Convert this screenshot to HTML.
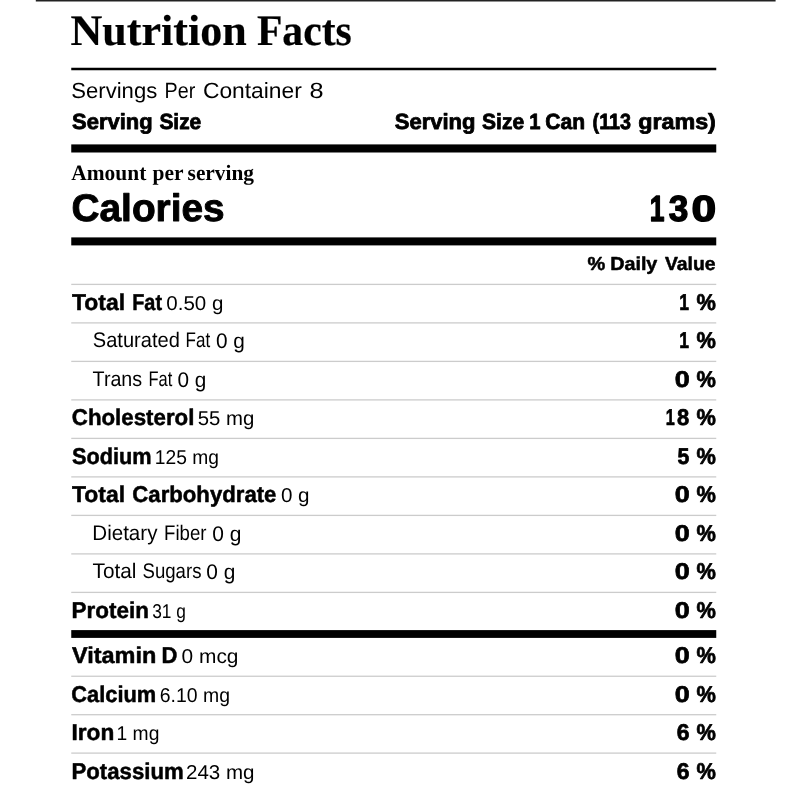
<!DOCTYPE html>
<html lang="en"><head><meta charset="utf-8"><title>Nutrition Facts</title>
<style>
html,body{margin:0;padding:0;background:#fff;}
body{width:800px;height:800px;overflow:hidden;}
svg{display:block;will-change:transform;}
text{fill:#000;text-rendering:geometricPrecision;}
.s{font-family:"Liberation Sans",Arial,sans-serif;}
.sb{font-family:"Liberation Sans",Arial,sans-serif;font-weight:700;stroke:#000;stroke-width:.5px;stroke-linejoin:round;}
.ss{font-family:"Liberation Sans",Arial,sans-serif;font-weight:700;stroke:#000;stroke-width:.8px;stroke-linejoin:round;}
.sr{font-family:"Liberation Sans",Arial,sans-serif;font-weight:700;stroke:#000;stroke-width:.5px;stroke-linejoin:round;}
.sp{font-family:"Liberation Sans",Arial,sans-serif;font-weight:700;stroke:#000;stroke-width:.7px;stroke-linejoin:round;}
.sh{font-family:"Liberation Sans",Arial,sans-serif;font-weight:700;stroke:#000;stroke-width:.9px;stroke-linejoin:round;}
.sx{font-family:"Liberation Sans",Arial,sans-serif;font-weight:700;stroke:#000;stroke-width:1.4px;stroke-linejoin:round;}
.serif{font-family:"Liberation Serif","Times New Roman",serif;font-weight:700;}
.serifh{font-family:"Liberation Serif","Times New Roman",serif;font-weight:700;stroke:#000;stroke-width:.2px;}
</style></head><body>
<svg width="800" height="800" viewBox="0 0 800 800">
<rect width="800" height="800" fill="#fff"/>
<rect x="35.8" y="0" width="739.8" height="1.5" fill="#222"/>
<rect x="71.25" y="67.75" width="645.0" height="2.5" fill="#000"/>
<rect x="71.25" y="144.4" width="645.0" height="8.1" fill="#000"/>
<rect x="71.25" y="237.4" width="645.0" height="8.0" fill="#000"/>
<rect x="71.25" y="630.1" width="645.0" height="7.8" fill="#000"/>
<rect x="71.25" y="283.75" width="645.0" height="1.3" fill="#cccccc"/>
<rect x="71.25" y="322.25" width="645.0" height="1.3" fill="#cccccc"/>
<rect x="71.25" y="360.75" width="645.0" height="1.3" fill="#cccccc"/>
<rect x="71.25" y="399.25" width="645.0" height="1.3" fill="#cccccc"/>
<rect x="71.25" y="437.75" width="645.0" height="1.3" fill="#cccccc"/>
<rect x="71.25" y="476.25" width="645.0" height="1.3" fill="#cccccc"/>
<rect x="71.25" y="514.75" width="645.0" height="1.3" fill="#cccccc"/>
<rect x="71.25" y="553.25" width="645.0" height="1.3" fill="#cccccc"/>
<rect x="71.25" y="591.75" width="645.0" height="1.3" fill="#cccccc"/>
<rect x="71.25" y="675.6" width="645.0" height="1.3" fill="#cccccc"/>
<rect x="71.25" y="714.05" width="645.0" height="1.3" fill="#cccccc"/>
<rect x="71.25" y="752.45" width="645.0" height="1.3" fill="#cccccc"/>
<text y="45"><tspan class="serifh" font-size="43.6" x="70.58" textLength="176.04" lengthAdjust="spacingAndGlyphs">Nutrition</tspan> <tspan class="serifh" font-size="43.6" x="256.93" textLength="94.77" lengthAdjust="spacingAndGlyphs">Facts</tspan></text>
<text y="98"><tspan class="s" font-size="22" x="71.30" textLength="85.90" lengthAdjust="spacingAndGlyphs">Servings</tspan> <tspan class="s" font-size="22" x="164.58" textLength="30.64" lengthAdjust="spacingAndGlyphs">Per</tspan> <tspan class="s" font-size="22" x="202.96" textLength="98.84" lengthAdjust="spacingAndGlyphs">Container</tspan> <tspan class="s" font-size="22" x="309.61" textLength="14.06" lengthAdjust="spacingAndGlyphs">8</tspan></text>
<text y="129"><tspan class="ss" font-size="22" x="72.10" textLength="80.50" lengthAdjust="spacingAndGlyphs">Serving</tspan> <tspan class="ss" font-size="22" x="159.40" textLength="41.88" lengthAdjust="spacingAndGlyphs">Size</tspan></text>
<text y="129"><tspan class="ss" font-size="22" x="394.75" textLength="80.70" lengthAdjust="spacingAndGlyphs">Serving</tspan> <tspan class="ss" font-size="22" x="482.10" textLength="42.03" lengthAdjust="spacingAndGlyphs">Size</tspan> <tspan class="ss" font-size="22" x="529.19" textLength="11.27" lengthAdjust="spacingAndGlyphs">1</tspan> <tspan class="ss" font-size="22" x="545.28" textLength="39.76" lengthAdjust="spacingAndGlyphs">Can</tspan> <tspan class="ss" font-size="22" x="592.56" textLength="38.46" lengthAdjust="spacingAndGlyphs">(113</tspan> <tspan class="ss" font-size="22" x="638.17" textLength="77.71" lengthAdjust="spacingAndGlyphs">grams)</tspan></text>
<text y="180"><tspan class="serif" font-size="22" x="71.25" textLength="75.02" lengthAdjust="spacingAndGlyphs">Amount</tspan> <tspan class="serif" font-size="22" x="152.50" textLength="30.96" lengthAdjust="spacingAndGlyphs">per</tspan> <tspan class="serif" font-size="22" x="187.58" textLength="66.42" lengthAdjust="spacingAndGlyphs">serving</tspan></text>
<text y="221"><tspan class="sh" font-size="38.5" x="71.49" textLength="153.20" lengthAdjust="spacingAndGlyphs">Calories</tspan></text>
<text y="221"><tspan class="sx" font-size="36.4" x="649.83" textLength="14.75" lengthAdjust="spacingAndGlyphs">1</tspan><tspan class="sx" font-size="36.4" x="668.75" textLength="19.59" lengthAdjust="spacingAndGlyphs">3</tspan><tspan class="sx" font-size="36.4" x="691.59" textLength="24.66" lengthAdjust="spacingAndGlyphs">0</tspan></text>
<text y="270"><tspan class="sb" font-size="18.8" x="587.50" textLength="17.75" lengthAdjust="spacingAndGlyphs">%</tspan> <tspan class="sb" font-size="18.8" x="610.20" textLength="47.16" lengthAdjust="spacingAndGlyphs">Daily</tspan> <tspan class="sb" font-size="18.8" x="665.04" textLength="50.54" lengthAdjust="spacingAndGlyphs">Value</tspan></text>
<text y="310"><tspan class="sr" font-size="22.8" x="72.00" textLength="53.07" lengthAdjust="spacingAndGlyphs">Total</tspan> <tspan class="sr" font-size="22.8" x="132.23" textLength="29.79" lengthAdjust="spacingAndGlyphs">Fat</tspan> <tspan class="s" font-size="20" x="166.36" textLength="57.01" lengthAdjust="spacingAndGlyphs">0.50 g</tspan></text>
<text y="310"><tspan class="sp" font-size="22.8" x="679.33" textLength="9.78" lengthAdjust="spacingAndGlyphs">1</tspan> <tspan class="sp" font-size="22.8" x="696.40" textLength="19.37" lengthAdjust="spacingAndGlyphs">%</tspan></text>
<text y="347"><tspan class="s" font-size="21.1" x="92.85" textLength="86.98" lengthAdjust="spacingAndGlyphs">Saturated</tspan> <tspan class="s" font-size="21.1" x="185.60" textLength="24.63" lengthAdjust="spacingAndGlyphs">Fat</tspan> <tspan class="s" font-size="21.1" x="215.97" y="348" textLength="28.94" lengthAdjust="spacingAndGlyphs">0 g</tspan></text>
<text y="348"><tspan class="sp" font-size="22.8" x="679.33" textLength="9.78" lengthAdjust="spacingAndGlyphs">1</tspan> <tspan class="sp" font-size="22.8" x="696.40" textLength="19.37" lengthAdjust="spacingAndGlyphs">%</tspan></text>
<text y="386"><tspan class="s" font-size="21.1" x="92.60" textLength="49.55" lengthAdjust="spacingAndGlyphs">Trans</tspan> <tspan class="s" font-size="21.1" x="148.45" textLength="23.77" lengthAdjust="spacingAndGlyphs">Fat</tspan> <tspan class="s" font-size="21.1" x="177.47" y="387" textLength="28.83" lengthAdjust="spacingAndGlyphs">0 g</tspan></text>
<text y="387"><tspan class="sp" font-size="22.8" x="674.79" textLength="14.96" lengthAdjust="spacingAndGlyphs">0</tspan> <tspan class="sp" font-size="22.8" x="696.40" textLength="19.37" lengthAdjust="spacingAndGlyphs">%</tspan></text>
<text y="425"><tspan class="sr" font-size="22.8" x="71.81" textLength="122.57" lengthAdjust="spacingAndGlyphs">Cholesterol</tspan> <tspan class="s" font-size="20" x="197.79" textLength="56.55" lengthAdjust="spacingAndGlyphs">55 mg</tspan></text>
<text y="425"><tspan class="sp" font-size="22.8" x="665.79" textLength="9.00" lengthAdjust="spacingAndGlyphs">1</tspan><tspan class="sp" font-size="22.8" x="677.00" textLength="12.20" lengthAdjust="spacingAndGlyphs">8</tspan> <tspan class="sp" font-size="22.8" x="696.40" textLength="19.37" lengthAdjust="spacingAndGlyphs">%</tspan></text>
<text y="464"><tspan class="sr" font-size="22.8" x="71.99" textLength="79.62" lengthAdjust="spacingAndGlyphs">Sodium</tspan> <tspan class="s" font-size="20" x="154.77" textLength="64.11" lengthAdjust="spacingAndGlyphs">125 mg</tspan></text>
<text y="464"><tspan class="sp" font-size="22.8" x="677.50" textLength="11.83" lengthAdjust="spacingAndGlyphs">5</tspan> <tspan class="sp" font-size="22.8" x="696.40" textLength="19.37" lengthAdjust="spacingAndGlyphs">%</tspan></text>
<text y="502"><tspan class="sr" font-size="22.8" x="72.00" textLength="53.07" lengthAdjust="spacingAndGlyphs">Total</tspan> <tspan class="sr" font-size="22.8" x="132.31" textLength="144.15" lengthAdjust="spacingAndGlyphs">Carbohydrate</tspan> <tspan class="s" font-size="20" x="280.90" textLength="28.69" lengthAdjust="spacingAndGlyphs">0 g</tspan></text>
<text y="502"><tspan class="sp" font-size="22.8" x="674.79" textLength="14.96" lengthAdjust="spacingAndGlyphs">0</tspan> <tspan class="sp" font-size="22.8" x="696.40" textLength="19.37" lengthAdjust="spacingAndGlyphs">%</tspan></text>
<text y="540"><tspan class="s" font-size="21.1" x="92.31" textLength="65.16" lengthAdjust="spacingAndGlyphs">Dietary</tspan> <tspan class="s" font-size="21.1" x="164.07" textLength="42.39" lengthAdjust="spacingAndGlyphs">Fiber</tspan> <tspan class="s" font-size="21.1" x="212.16" y="541" textLength="29.16" lengthAdjust="spacingAndGlyphs">0 g</tspan></text>
<text y="541"><tspan class="sp" font-size="22.8" x="674.79" textLength="14.96" lengthAdjust="spacingAndGlyphs">0</tspan> <tspan class="sp" font-size="22.8" x="696.40" textLength="19.37" lengthAdjust="spacingAndGlyphs">%</tspan></text>
<text y="578"><tspan class="s" font-size="21.1" x="92.60" textLength="43.84" lengthAdjust="spacingAndGlyphs">Total</tspan> <tspan class="s" font-size="21.1" x="142.52" textLength="58.93" lengthAdjust="spacingAndGlyphs">Sugars</tspan> <tspan class="s" font-size="21.1" x="206.26" y="579" textLength="29.05" lengthAdjust="spacingAndGlyphs">0 g</tspan></text>
<text y="579"><tspan class="sp" font-size="22.8" x="674.79" textLength="14.96" lengthAdjust="spacingAndGlyphs">0</tspan> <tspan class="sp" font-size="22.8" x="696.40" textLength="19.37" lengthAdjust="spacingAndGlyphs">%</tspan></text>
<text y="618"><tspan class="sr" font-size="22.8" x="71.52" textLength="77.34" lengthAdjust="spacingAndGlyphs">Protein</tspan> <tspan class="s" font-size="20" x="152.20" textLength="33.71" lengthAdjust="spacingAndGlyphs">31 g</tspan></text>
<text y="618"><tspan class="sp" font-size="22.8" x="674.79" textLength="14.96" lengthAdjust="spacingAndGlyphs">0</tspan> <tspan class="sp" font-size="22.8" x="696.40" textLength="19.37" lengthAdjust="spacingAndGlyphs">%</tspan></text>
<text y="663"><tspan class="sr" font-size="22.8" x="71.92" textLength="84.44" lengthAdjust="spacingAndGlyphs">Vitamin</tspan> <tspan class="sr" font-size="22.8" x="161.43" textLength="15.92" lengthAdjust="spacingAndGlyphs">D</tspan> <tspan class="s" font-size="20" x="181.64" textLength="56.86" lengthAdjust="spacingAndGlyphs">0 mcg</tspan></text>
<text y="663"><tspan class="sp" font-size="22.8" x="674.79" textLength="14.96" lengthAdjust="spacingAndGlyphs">0</tspan> <tspan class="sp" font-size="22.8" x="696.40" textLength="19.37" lengthAdjust="spacingAndGlyphs">%</tspan></text>
<text y="702"><tspan class="sr" font-size="22.8" x="71.32" textLength="84.84" lengthAdjust="spacingAndGlyphs">Calcium</tspan> <tspan class="s" font-size="20" x="159.78" textLength="70.17" lengthAdjust="spacingAndGlyphs">6.10 mg</tspan></text>
<text y="702"><tspan class="sp" font-size="22.8" x="674.79" textLength="14.96" lengthAdjust="spacingAndGlyphs">0</tspan> <tspan class="sp" font-size="22.8" x="696.40" textLength="19.37" lengthAdjust="spacingAndGlyphs">%</tspan></text>
<text y="740"><tspan class="sr" font-size="22.8" x="71.51" textLength="42.78" lengthAdjust="spacingAndGlyphs">Iron</tspan> <tspan class="s" font-size="20" x="116.52" textLength="42.87" lengthAdjust="spacingAndGlyphs">1 mg</tspan></text>
<text y="740"><tspan class="sp" font-size="22.8" x="676.80" textLength="12.77" lengthAdjust="spacingAndGlyphs">6</tspan> <tspan class="sp" font-size="22.8" x="696.40" textLength="19.37" lengthAdjust="spacingAndGlyphs">%</tspan></text>
<text y="779"><tspan class="sr" font-size="22.8" x="71.53" textLength="112.13" lengthAdjust="spacingAndGlyphs">Potassium</tspan> <tspan class="s" font-size="20" x="185.97" textLength="68.51" lengthAdjust="spacingAndGlyphs">243 mg</tspan></text>
<text y="779"><tspan class="sp" font-size="22.8" x="676.80" textLength="12.77" lengthAdjust="spacingAndGlyphs">6</tspan> <tspan class="sp" font-size="22.8" x="696.40" textLength="19.37" lengthAdjust="spacingAndGlyphs">%</tspan></text>
</svg></body></html>
